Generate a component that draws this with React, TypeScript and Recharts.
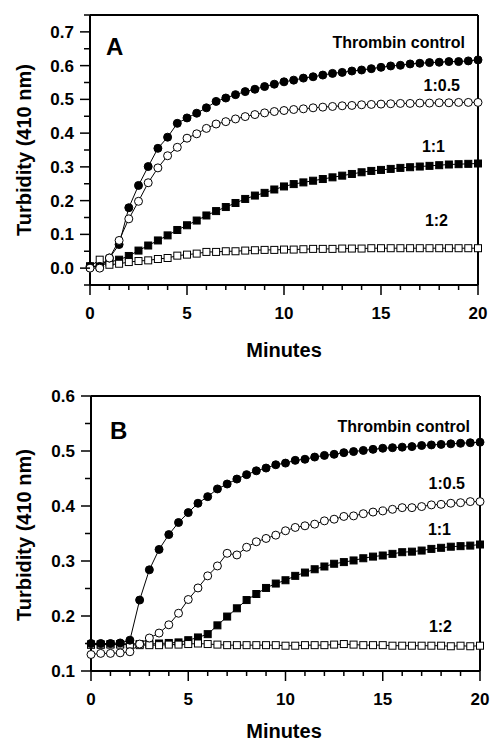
import { LineChart, Line, XAxis, YAxis, ReferenceLine } from "recharts";

const FONT = '"Liberation Sans", Arial, Helvetica, sans-serif';

const MINUTES = [
  0, 0.5, 1, 1.5, 2, 2.5, 3, 3.5, 4, 4.5,
  5, 5.5, 6, 6.5, 7, 7.5, 8, 8.5, 9, 9.5,
  10, 10.5, 11, 11.5, 12, 12.5, 13, 13.5, 14, 14.5,
  15, 15.5, 16, 16.5, 17, 17.5, 18, 18.5, 19, 19.5,
  20,
];

// Panel A
const A_CONTROL = [
  0.005, 0.005, 0.03, 0.07, 0.179, 0.245, 0.301, 0.355, 0.388, 0.429,
  0.445, 0.459, 0.475, 0.494, 0.504, 0.514, 0.523, 0.53, 0.538, 0.545,
  0.552, 0.557, 0.563, 0.567, 0.572, 0.577, 0.58, 0.584, 0.587, 0.591,
  0.595, 0.599, 0.601, 0.605, 0.607, 0.609, 0.61, 0.612, 0.612, 0.614,
  0.617,
];
const A_HALF = [
  0.0, 0.0, 0.03, 0.082, 0.146, 0.198, 0.253, 0.297, 0.333, 0.358,
  0.385, 0.398, 0.414, 0.427, 0.434, 0.442, 0.449, 0.455, 0.46, 0.464,
  0.467, 0.47, 0.472, 0.475, 0.477, 0.479, 0.481, 0.482, 0.484, 0.485,
  0.486, 0.487, 0.488, 0.488, 0.489, 0.489, 0.49, 0.49, 0.491, 0.491,
  0.491,
];
const A_ONE = [
  0.005, 0.005, 0.018, 0.025, 0.036, 0.052, 0.067, 0.082, 0.097, 0.113,
  0.127, 0.141, 0.156, 0.169, 0.181, 0.193, 0.205, 0.215, 0.223, 0.233,
  0.242, 0.249, 0.254, 0.259, 0.264, 0.269, 0.274, 0.279, 0.284, 0.288,
  0.291, 0.294, 0.297, 0.299, 0.301, 0.303, 0.305, 0.307, 0.308, 0.309,
  0.31,
];
const A_TWO = [
  0.005, 0.025, 0.01, 0.013, 0.018, 0.021, 0.023, 0.027, 0.03, 0.037,
  0.04, 0.043, 0.048, 0.048, 0.05, 0.05, 0.052, 0.053, 0.054, 0.054,
  0.055, 0.055, 0.056, 0.057, 0.057, 0.057, 0.058, 0.058, 0.058, 0.059,
  0.059, 0.059, 0.059, 0.059, 0.059, 0.059, 0.059, 0.059, 0.059, 0.059,
  0.059,
];

// Panel B
const B_CONTROL = [
  0.15, 0.15, 0.15, 0.151, 0.156, 0.229, 0.284, 0.321, 0.348, 0.37,
  0.388, 0.405, 0.417, 0.431, 0.44, 0.449, 0.457, 0.464, 0.469, 0.475,
  0.478, 0.483, 0.485, 0.489, 0.492, 0.494, 0.497, 0.499, 0.501, 0.503,
  0.505, 0.506, 0.507, 0.508, 0.51, 0.511, 0.512, 0.513, 0.514, 0.515,
  0.516,
];
const B_HALF = [
  0.13, 0.132, 0.132, 0.133, 0.135, 0.149, 0.16, 0.169, 0.184, 0.205,
  0.23, 0.251, 0.273, 0.291, 0.314, 0.311, 0.325, 0.335, 0.341, 0.347,
  0.355, 0.361, 0.364, 0.367, 0.373, 0.376, 0.381, 0.382, 0.386, 0.389,
  0.391, 0.394, 0.397, 0.397, 0.399, 0.402, 0.403, 0.405, 0.406, 0.408,
  0.408,
];
const B_ONE = [
  0.148, 0.148, 0.149, 0.149, 0.15, 0.149, 0.149, 0.15, 0.151, 0.152,
  0.156, 0.161, 0.167, 0.183, 0.199, 0.214, 0.229, 0.24, 0.251, 0.259,
  0.265, 0.273, 0.279, 0.285, 0.29, 0.295, 0.298, 0.301, 0.305, 0.308,
  0.31, 0.313, 0.316, 0.317, 0.319, 0.322, 0.324, 0.326, 0.327, 0.328,
  0.33,
];
const B_TWO = [
  0.148, 0.148, 0.148, 0.148, 0.148, 0.147, 0.147, 0.147, 0.148, 0.148,
  0.149, 0.15, 0.149, 0.148, 0.147, 0.147, 0.147, 0.147, 0.147, 0.147,
  0.146, 0.146, 0.147, 0.147, 0.147, 0.148, 0.149, 0.148, 0.147, 0.147,
  0.147, 0.146, 0.146, 0.146, 0.146, 0.146, 0.146, 0.145, 0.146, 0.145,
  0.146,
];

const X_TICKS = [0, 1, 2, 3, 4, 5, 6, 7, 8, 9, 10, 11, 12, 13, 14, 15, 16, 17, 18, 19, 20];
const Y_TICKS_A = [-0.05, 0, 0.05, 0.1, 0.15, 0.2, 0.25, 0.3, 0.35, 0.4, 0.45, 0.5, 0.55, 0.6, 0.65, 0.7, 0.75];
const Y_TICKS_B = [0.1, 0.15, 0.2, 0.25, 0.3, 0.35, 0.4, 0.45, 0.5, 0.55, 0.6];

const SERIES_LABELS = ["Thrombin control", "1:0.5", "1:1", "1:2"];

function buildRows(control: number[], half: number[], one: number[], two: number[]) {
  return MINUTES.map((t, i) => ({ t, control: control[i], half: half[i], one: one[i], two: two[i] }));
}

function XTick(props: any) {
  const { x, y, payload } = props;
  const v = payload.value;
  const major = v % 5 === 0;
  return (
    <g>
      <line x1={x} x2={x} y1={y} y2={y + (major ? 10 : 5)} stroke="#000" strokeWidth={1.5} />
      {major && (
        <text x={x} y={y + 34} textAnchor="middle" fontFamily={FONT} fontWeight="bold" fontSize={17} fill="#000">
          {v}
        </text>
      )}
    </g>
  );
}

function YTick(props: any) {
  const { x, y, payload } = props;
  const v = payload.value;
  const major = Math.round(v * 100) % 10 === 0;
  return (
    <g>
      <line x1={x - (major ? 10 : 6)} x2={x} y1={y} y2={y} stroke="#000" strokeWidth={1.5} />
      {major && (
        <text x={x - 16} y={y + 6} textAnchor="end" fontFamily={FONT} fontWeight="bold" fontSize={17} fill="#000">
          {v.toFixed(1)}
        </text>
      )}
    </g>
  );
}

const filledCircle = (p: any) => (
  <circle key={`fc-${p.index}`} cx={p.cx} cy={p.cy} r={4} fill="#000" stroke="#000" strokeWidth={1} />
);
const openCircle = (p: any) => (
  <circle key={`oc-${p.index}`} cx={p.cx} cy={p.cy} r={4} fill="#fff" stroke="#000" strokeWidth={1} />
);
const filledSquare = (p: any) => (
  <rect key={`fs-${p.index}`} x={p.cx - 3.5} y={p.cy - 3.5} width={7} height={7} fill="#000" stroke="#000" strokeWidth={1} />
);
const openSquare = (p: any) => (
  <rect key={`os-${p.index}`} x={p.cx - 3.5} y={p.cy - 3.5} width={7} height={7} fill="#fff" stroke="#000" strokeWidth={1} />
);

type PanelProps = {
  rows: ReturnType<typeof buildRows>;
  yDomain: [number, number];
  yTicks: number[];
  margin: { top: number; right: number; bottom: number; left: number };
  yWidth: number;
  xHeight: number;
};

function Panel({ rows, yDomain, yTicks, margin, yWidth, xHeight }: PanelProps) {
  return (
    <LineChart width={491} height={372} data={rows} margin={margin}>
      <XAxis
        dataKey="t"
        type="number"
        domain={[0, 20]}
        ticks={X_TICKS}
        interval={0}
        tickSize={0}
        tickMargin={0}
        tickLine={false}
        tick={<XTick />}
        height={xHeight}
        axisLine={{ stroke: "#000", strokeWidth: 2 }}
      />
      <YAxis
        type="number"
        domain={yDomain}
        ticks={yTicks}
        interval={0}
        tickSize={0}
        tickMargin={0}
        tickLine={false}
        tick={<YTick />}
        width={yWidth}
        axisLine={{ stroke: "#000", strokeWidth: 2 }}
      />
      <ReferenceLine y={yDomain[1]} stroke="#000" strokeWidth={2} />
      <ReferenceLine x={20} stroke="#000" strokeWidth={2} />
      <Line dataKey="one" stroke="#000" strokeWidth={1} dot={filledSquare} isAnimationActive={false} />
      <Line dataKey="two" stroke="#000" strokeWidth={1} dot={openSquare} isAnimationActive={false} />
      <Line dataKey="control" stroke="#000" strokeWidth={1} dot={filledCircle} isAnimationActive={false} />
      <Line dataKey="half" stroke="#000" strokeWidth={1} dot={openCircle} isAnimationActive={false} />
    </LineChart>
  );
}

const textStyle = { fontFamily: FONT, fontWeight: "bold" as const, fill: "#000" };

function Overlay({ letter, letterX, letterY, plotMid, labelPos, minutesY }: {
  letter: string;
  letterX: number;
  letterY: number;
  plotMid: number;
  labelPos: [number, number][];
  minutesY: number;
}) {
  return (
    <svg width={491} height={372} style={{ position: "absolute", left: 0, top: 0, pointerEvents: "none" }}>
      <text x={letterX} y={letterY} fontSize={24} {...textStyle}>{letter}</text>
      {SERIES_LABELS.map((s, i) => (
        <text key={s} x={labelPos[i][0]} y={labelPos[i][1]} textAnchor="end" fontSize={16} {...textStyle}>{s}</text>
      ))}
      <text
        x={31}
        y={plotMid}
        textAnchor="middle"
        fontSize={20}
        transform={`rotate(-90, 31, ${plotMid})`}
        {...textStyle}
      >
        Turbidity (410 nm)
      </text>
      <text x={284} y={minutesY} textAnchor="middle" fontSize={20} {...textStyle}>Minutes</text>
    </svg>
  );
}

export default function App() {
  const rowsA = buildRows(A_CONTROL, A_HALF, A_ONE, A_TWO);
  const rowsB = buildRows(B_CONTROL, B_HALF, B_ONE, B_TWO);
  return (
    <div style={{ position: "absolute", left: 0, top: 0, width: 491, height: 744, background: "#fff" }}>
      <div style={{ position: "absolute", left: 0, top: 0, width: 491, height: 372 }}>
        <Panel
          rows={rowsA}
          yDomain={[-0.05, 0.75]}
          yTicks={Y_TICKS_A}
          margin={{ top: 15, right: 13, bottom: 15, left: 0 }}
          yWidth={90}
          xHeight={72}
        />
        <Overlay
          letter="A"
          letterX={106}
          letterY={55}
          plotMid={150}
          labelPos={[[465, 48], [460, 91], [445, 152], [448, 226]]}
          minutesY={357}
        />
      </div>
      <div style={{ position: "absolute", left: 0, top: 372, width: 491, height: 372 }}>
        <Panel
          rows={rowsB}
          yDomain={[0.1, 0.6]}
          yTicks={Y_TICKS_B}
          margin={{ top: 24, right: 11, bottom: 2, left: 0 }}
          yWidth={91}
          xHeight={71}
        />
        <Overlay
          letter="B"
          letterX={110}
          letterY={67}
          plotMid={163}
          labelPos={[[470, 60], [465, 117], [451, 163], [452, 260]]}
          minutesY={366}
        />
      </div>
    </div>
  );
}
